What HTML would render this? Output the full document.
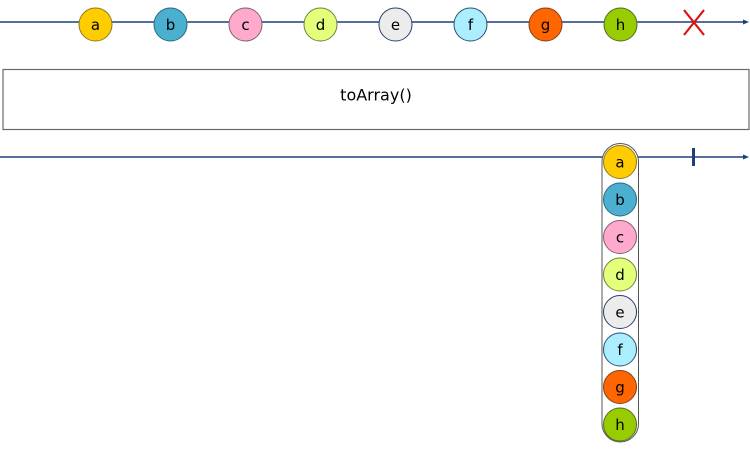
<!DOCTYPE html>
<html><head><meta charset="utf-8"><style>
html,body{margin:0;padding:0;background:#fff;}
svg{display:block;}
text{font-family:"DejaVu Sans","Liberation Sans",sans-serif;}
</style></head><body>
<svg width="750" height="457" viewBox="0 0 750 457" xmlns="http://www.w3.org/2000/svg">
<!-- top line -->
<line x1="0" y1="22" x2="745" y2="22" stroke="#1e3f7a" stroke-width="1.5"/>
<polygon points="749,22 743,19.5 743,24.5" fill="#1e3f7a"/>
<g stroke-width="1" font-size="15" text-anchor="middle">
<circle cx="95.5" cy="24.5" r="16.5" fill="#ffcc00" stroke="#8a7a20"/><text x="95.5" y="30">a</text>
<circle cx="170.5" cy="24.5" r="16.5" fill="#4bafcf" stroke="#2a6a80"/><text x="170.5" y="30">b</text>
<circle cx="245.5" cy="24.5" r="16.5" fill="#ffaacc" stroke="#806070"/><text x="245.5" y="30">c</text>
<circle cx="320.5" cy="24.5" r="16.5" fill="#e4ff7a" stroke="#708040"/><text x="320.5" y="30">d</text>
<circle cx="395.5" cy="24.5" r="16.5" fill="#ececec" stroke="#2a3f70"/><text x="395.5" y="30">e</text>
<circle cx="470.5" cy="24.5" r="16.5" fill="#aaeeff" stroke="#2a5070"/><text x="470.5" y="30">f</text>
<circle cx="545.5" cy="24.5" r="16.5" fill="#ff6600" stroke="#804020"/><text x="545.5" y="30">g</text>
<circle cx="620.5" cy="24.5" r="16.5" fill="#99cc00" stroke="#4a7020"/><text x="620.5" y="30">h</text>
</g>
<line x1="684" y1="10" x2="704" y2="35" stroke="#dd1111" stroke-width="2.2"/>
<line x1="704" y1="10" x2="684" y2="35" stroke="#dd1111" stroke-width="2.2"/>
<!-- box -->
<rect x="3" y="69.5" width="746" height="60" fill="#fff" stroke="#6a6a6a" stroke-width="1.2"/>
<text x="376" y="100.5" font-size="16" text-anchor="middle">toArray()</text>
<!-- bottom line -->
<line x1="0" y1="157" x2="745" y2="157" stroke="#1e3f7a" stroke-width="1.5"/>
<polygon points="749,157 743,154.5 743,159.5" fill="#1e3f7a"/>
<line x1="693.5" y1="148" x2="693.5" y2="166" stroke="#1e3f7a" stroke-width="3"/>
<!-- capsule -->
<rect x="602" y="143.5" width="36.5" height="298.5" rx="18.25" fill="#fff" stroke="#555" stroke-width="1"/>
<g stroke-width="1" font-size="15" text-anchor="middle">
<circle cx="620" cy="162" r="16.5" fill="#ffcc00" stroke="#8a7a20"/><text x="620" y="167.5">a</text>
<circle cx="620" cy="199.5" r="16.5" fill="#4bafcf" stroke="#2a6a80"/><text x="620" y="205">b</text>
<circle cx="620" cy="237" r="16.5" fill="#ffaacc" stroke="#806070"/><text x="620" y="242.5">c</text>
<circle cx="620" cy="274.5" r="16.5" fill="#e4ff7a" stroke="#708040"/><text x="620" y="280">d</text>
<circle cx="620" cy="312" r="16.5" fill="#ececec" stroke="#2a3f70"/><text x="620" y="317.5">e</text>
<circle cx="620" cy="349.5" r="16.5" fill="#aaeeff" stroke="#2a5070"/><text x="620" y="355">f</text>
<circle cx="620" cy="387" r="16.5" fill="#ff6600" stroke="#804020"/><text x="620" y="392.5">g</text>
<circle cx="620" cy="424.5" r="16.5" fill="#99cc00" stroke="#4a7020"/><text x="620" y="430">h</text>
</g>
</svg>
</body></html>
